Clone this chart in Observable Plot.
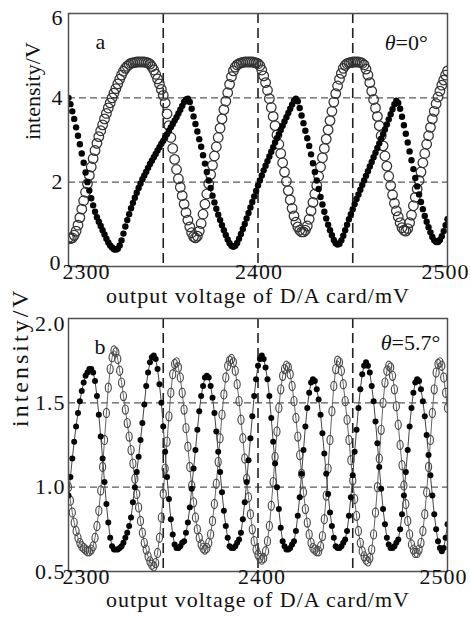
<!DOCTYPE html>
<html>
<head>
<meta charset="utf-8">
<script src="https://cdn.jsdelivr.net/npm/d3@7"></script>
<script src="https://cdn.jsdelivr.net/npm/@observablehq/plot@0.6"></script>
<style>
  html, body { margin: 0; padding: 0; background: #fff; }
  #chart { width: 470px; height: 619px; overflow: hidden; }
  #chart svg { display: block; }
  #chart svg text { font-family: "Liberation Serif", "Times New Roman", serif; }
</style>
</head>
<body>
<div id="chart"></div>
<script>
// ---------------- data ----------------
// sample positions: output voltage of D/A card (mV), one sample per mV
const mv = d3.range(2300, 2501);

// panel a (θ = 0°): filled-dot series, intensity/V
const aFilled = [
  4.00,3.85,3.68,3.50,3.30,3.10,2.90,2.68,2.46,2.23,
  2.00,1.80,1.62,1.45,1.30,1.17,1.06,0.96,0.86,0.76,
  0.66,0.57,0.50,0.45,0.41,0.40,0.42,0.50,0.62,0.78,
  0.95,1.10,1.24,1.38,1.51,1.63,1.75,1.86,1.97,2.07,
  2.16,2.25,2.34,2.43,2.51,2.59,2.67,2.75,2.83,2.91,
  2.98,3.06,3.14,3.22,3.30,3.38,3.46,3.54,3.63,3.72,
  3.81,3.90,3.96,3.98,3.90,3.74,3.56,3.38,3.20,3.02,
  2.84,2.64,2.44,2.24,2.04,1.86,1.68,1.52,1.37,1.23,
  1.10,0.98,0.86,0.75,0.64,0.55,0.49,0.47,0.49,0.56,
  0.66,0.77,0.89,1.01,1.14,1.27,1.40,1.53,1.66,1.79,
  1.92,2.04,2.16,2.28,2.39,2.50,2.61,2.72,2.83,2.94,
  3.04,3.14,3.24,3.34,3.44,3.54,3.64,3.74,3.84,3.93,
  3.98,3.92,3.76,3.58,3.40,3.22,3.04,2.86,2.66,2.45,
  2.24,2.04,1.84,1.65,1.47,1.30,1.14,0.99,0.86,0.74,
  0.63,0.55,0.52,0.54,0.62,0.73,0.86,0.99,1.12,1.24,
  1.36,1.48,1.60,1.71,1.82,1.93,2.04,2.15,2.26,2.37,
  2.48,2.59,2.70,2.81,2.92,3.03,3.14,3.25,3.37,3.49,
  3.61,3.73,3.85,3.93,3.88,3.74,3.55,3.35,3.15,2.94,
  2.73,2.52,2.31,2.10,1.90,1.71,1.53,1.36,1.20,1.06,
  0.93,0.81,0.70,0.62,0.58,0.58,0.63,0.72,0.84,0.98,
  1.12
];
// panel a: open-circle series
const aOpen = [
  0.68,0.66,0.68,0.74,0.84,0.98,1.16,1.36,1.56,1.76,
  1.96,2.16,2.36,2.56,2.75,2.92,3.08,3.22,3.36,3.50,
  3.63,3.76,3.88,4.00,4.11,4.22,4.33,4.44,4.54,4.63,
  4.70,4.75,4.79,4.82,4.83,4.84,4.85,4.85,4.85,4.85,
  4.85,4.84,4.83,4.80,4.74,4.66,4.56,4.45,4.33,4.20,
  4.06,3.88,3.62,3.34,3.06,2.80,2.54,2.30,2.08,1.88,
  1.68,1.48,1.28,1.10,0.94,0.80,0.71,0.68,0.72,0.84,
  1.02,1.24,1.48,1.72,1.96,2.18,2.40,2.62,2.84,3.06,
  3.28,3.50,3.72,3.92,4.12,4.32,4.50,4.64,4.73,4.78,
  4.81,4.83,4.84,4.85,4.85,4.85,4.85,4.85,4.84,4.83,
  4.81,4.76,4.66,4.52,4.36,4.18,3.98,3.77,3.56,3.34,
  3.12,2.90,2.68,2.46,2.24,2.02,1.80,1.58,1.38,1.20,
  1.05,0.94,0.86,0.82,0.82,0.86,0.96,1.12,1.32,1.52,
  1.72,1.92,2.14,2.36,2.58,2.80,3.02,3.24,3.46,3.68,
  3.90,4.10,4.28,4.44,4.58,4.70,4.77,4.81,4.83,4.84,
  4.85,4.85,4.85,4.85,4.84,4.82,4.78,4.68,4.54,4.36,
  4.16,3.96,3.76,3.56,3.34,3.10,2.86,2.62,2.38,2.14,
  1.92,1.70,1.50,1.32,1.18,1.04,0.92,0.86,0.84,0.90,
  1.04,1.22,1.44,1.64,1.84,2.04,2.24,2.46,2.68,2.90,
  3.10,3.30,3.50,3.68,3.86,4.02,4.16,4.30,4.42,4.54,
  4.64
];
// panel b (θ = 5.7°): filled-dot series
const bFilled = [
  0.95,1.06,1.17,1.27,1.36,1.44,1.51,1.57,1.62,1.66,
  1.68,1.70,1.70,1.68,1.63,1.54,1.43,1.30,1.17,1.03,
  0.90,0.79,0.70,0.65,0.63,0.63,0.63,0.64,0.65,0.67,
  0.70,0.73,0.77,0.82,0.91,1.00,1.09,1.18,1.28,1.38,
  1.49,1.60,1.68,1.74,1.77,1.78,1.76,1.70,1.61,1.50,
  1.36,1.21,1.06,0.93,0.81,0.72,0.66,0.64,0.64,0.65,
  0.67,0.68,0.73,0.79,0.88,0.99,1.11,1.22,1.34,1.45,
  1.54,1.60,1.65,1.66,1.65,1.60,1.53,1.44,1.33,1.21,
  1.09,0.97,0.86,0.77,0.70,0.65,0.64,0.64,0.65,0.67,
  0.69,0.73,0.81,0.91,1.03,1.16,1.29,1.42,1.54,1.64,
  1.72,1.76,1.78,1.76,1.71,1.64,1.54,1.41,1.27,1.14,
  1.00,0.87,0.76,0.68,0.65,0.63,0.63,0.64,0.66,0.68,
  0.74,0.83,0.94,1.08,1.22,1.36,1.47,1.56,1.62,1.64,
  1.63,1.58,1.52,1.43,1.32,1.20,1.08,0.96,0.85,0.77,
  0.70,0.65,0.64,0.64,0.65,0.67,0.69,0.74,0.83,0.94,
  1.07,1.21,1.34,1.47,1.58,1.67,1.72,1.74,1.72,1.68,
  1.60,1.51,1.39,1.26,1.12,0.99,0.87,0.78,0.70,0.66,
  0.64,0.64,0.65,0.67,0.69,0.75,0.84,0.95,1.09,1.22,
  1.36,1.47,1.56,1.62,1.64,1.63,1.58,1.51,1.42,1.31,
  1.19,1.07,0.95,0.84,0.75,0.68,0.64,0.62,0.64,0.70,
  0.78
];
// panel b: open-circle series
const bOpen = [
  1.00,0.92,0.85,0.79,0.74,0.70,0.67,0.65,0.64,0.63,
  0.62,0.62,0.63,0.65,0.70,0.77,0.86,0.98,1.12,1.28,
  1.44,1.59,1.70,1.77,1.81,1.80,1.76,1.69,1.62,1.54,
  1.46,1.38,1.30,1.22,1.14,1.05,0.96,0.88,0.80,0.73,
  0.67,0.63,0.59,0.56,0.54,0.53,0.55,0.61,0.70,0.82,
  0.96,1.11,1.27,1.42,1.56,1.67,1.73,1.74,1.71,1.65,
  1.56,1.46,1.35,1.24,1.12,1.01,0.91,0.82,0.75,0.70,
  0.66,0.64,0.63,0.64,0.67,0.72,0.80,0.90,1.02,1.15,
  1.29,1.43,1.55,1.65,1.72,1.75,1.76,1.74,1.69,1.61,
  1.51,1.40,1.29,1.17,1.05,0.94,0.84,0.75,0.68,0.63,
  0.60,0.58,0.57,0.58,0.62,0.68,0.77,0.89,1.03,1.18,
  1.33,1.47,1.58,1.66,1.70,1.72,1.71,1.67,1.60,1.51,
  1.41,1.30,1.19,1.08,0.97,0.87,0.79,0.72,0.67,0.64,
  0.63,0.62,0.62,0.65,0.71,0.81,0.95,1.11,1.28,1.45,
  1.60,1.70,1.75,1.74,1.69,1.61,1.51,1.40,1.28,1.16,
  1.04,0.93,0.83,0.74,0.67,0.62,0.59,0.57,0.56,0.58,
  0.63,0.72,0.85,1.00,1.17,1.34,1.50,1.62,1.69,1.72,
  1.71,1.66,1.58,1.48,1.37,1.25,1.13,1.01,0.90,0.80,
  0.72,0.66,0.63,0.61,0.61,0.63,0.67,0.74,0.84,0.97,
  1.12,1.28,1.44,1.58,1.68,1.73,1.74,1.72,1.65,1.56,
  1.47
];

// axes / grid / labels
const xDomain = [2300, 2500];
const xGrid = [2350, 2400, 2450];
const xTickLabels = [2300, 2400, 2500];
const yDomainA = [0, 6];
const yGridA = [2, 4];
const yTicksA = [0, 2, 4, 6];
const yDomainB = [0.5, 2.0];
const yGridB = [1.0, 1.5];
const yTicksB = [0.5, 1.0, 1.5, 2.0];
const xTitle = "output voltage of D/A card/mV";
const yTitle = "intensity/V";
const panelA = {tag: "a", theta: "θ", angle: "=0°"};
const panelB = {tag: "b", theta: "θ", angle: "=5.7°"};

// ---------------- build ----------------
const rowsA = mv.map((x, i) => ({mv: x, filled: aFilled[i], open: aOpen[i]}));
const rowsB = mv.map((x, i) => ({mv: x, filled: bFilled[i], open: bOpen[i]}));

const FONT = "Liberation Serif";
const INK = "#111";
const FS = 22;

// vertically elongated ring used for the open markers of panel b
const ellipse = {
  draw(ctx, size) {
    const r = Math.sqrt(size / Math.PI);
    const rx = r * 0.66, ry = r, k = 0.5523;
    ctx.moveTo(rx, 0);
    ctx.bezierCurveTo(rx, ry * k, rx * k, ry, 0, ry);
    ctx.bezierCurveTo(-rx * k, ry, -rx, ry * k, -rx, 0);
    ctx.bezierCurveTo(-rx, -ry * k, -rx * k, -ry, 0, -ry);
    ctx.bezierCurveTo(rx * k, -ry, rx, -ry * k, rx, 0);
    ctx.closePath();
  }
};

const fmtA = d => String(d);
const fmtB = d => d.toFixed(1);

function T(o) {
  return Object.assign({fontFamily: FONT, fontSize: FS, fill: INK, stroke: null}, o);
}

const chartA = Plot.plot({
  width: 470, height: 310,
  marginLeft: 68, marginRight: 23, marginTop: 13, marginBottom: 44,
  x: {domain: xDomain, axis: null},
  y: {domain: yDomainA, axis: null},
  style: {fontFamily: FONT, fontSize: FS + "px", color: INK, background: "#fff", overflow: "visible"},
  marks: [
    Plot.ruleY(yGridA, {y: d => d, stroke: "#5a5a5a", strokeWidth: 1.2, strokeDasharray: "7,4"}),
    Plot.ruleX(xGrid, {x: d => d, stroke: "#222", strokeWidth: 1.6, strokeDasharray: "10,5"}),
    Plot.dot(rowsA, {x: "mv", y: "open", r: 4.8, fill: "none", stroke: "#333", strokeWidth: 1.25, clip: true}),
    Plot.dot(rowsA, {x: "mv", y: "filled", r: 3.2, fill: "#050505", stroke: "none", clip: true}),
    Plot.frame({stroke: "#505050", strokeWidth: 1.5}),
    // y tick labels
    Plot.text(yTicksA.filter(d => d > 0 && d < 6), T({y: d => d, text: fmtA, frameAnchor: "left", textAnchor: "end", dx: -6, dy: 0})),
    Plot.text([yTicksA[3]], T({y: d => d, text: fmtA, frameAnchor: "left", textAnchor: "end", dx: -6, dy: 4})),
    Plot.text([yTicksA[0]], T({y: d => d, text: fmtA, frameAnchor: "left", textAnchor: "end", dx: -8, dy: -4})),
    // x tick labels
    Plot.text([xTickLabels[0]], T({x: d => d, text: fmtA, frameAnchor: "bottom", textAnchor: "start", dx: -6, dy: 12})),
    Plot.text([xTickLabels[1]], T({x: d => d, text: fmtA, frameAnchor: "bottom", textAnchor: "middle", dx: 1, dy: 12})),
    Plot.text([xTickLabels[2]], T({x: d => d, text: fmtA, frameAnchor: "bottom", textAnchor: "end", dx: 22, dy: 12})),
    // axis titles
    Plot.text([xTitle], T({frameAnchor: "bottom", dy: 36})),
    Plot.text([yTitle], T({frameAnchor: "left", rotate: -90, dx: -36})),
    // panel annotations
    Plot.text([panelA.tag], T({frameAnchor: "top-left", dx: 27, dy: 20})),
    Plot.text([panelA.theta], T({frameAnchor: "top-right", textAnchor: "end", dx: -52, dy: 21, fontStyle: "italic"})),
    Plot.text([panelA.angle], T({frameAnchor: "top-right", textAnchor: "start", dx: -52, dy: 21}))
  ]
});

const chartB = Plot.plot({
  width: 470, height: 309,
  marginLeft: 68, marginRight: 23, marginTop: 8, marginBottom: 48,
  x: {domain: xDomain, axis: null},
  y: {domain: yDomainB, axis: null},
  style: {fontFamily: FONT, fontSize: FS + "px", color: INK, background: "#fff", overflow: "visible"},
  marks: [
    Plot.ruleY(yGridB, {y: d => d, stroke: "#5a5a5a", strokeWidth: 1.2, strokeDasharray: "7,4"}),
    Plot.ruleX(xGrid, {x: d => d, stroke: "#222", strokeWidth: 1.6, strokeDasharray: "10,5"}),
    Plot.line(rowsB, {x: "mv", y: "open", stroke: "#666", strokeWidth: 1, clip: true}),
    Plot.line(rowsB, {x: "mv", y: "filled", stroke: "#444", strokeWidth: 1, clip: true}),
    Plot.dot(rowsB, {x: "mv", y: "open", r: 4.6, symbol: ellipse, fill: "none", stroke: "#4a4a4a", strokeWidth: 1.15, clip: true}),
    Plot.dot(rowsB, {x: "mv", y: "filled", r: 3.0, fill: "#050505", stroke: "none", clip: true}),
    Plot.frame({stroke: "#505050", strokeWidth: 1.5}),
    // y tick labels
    Plot.text(yTicksB.filter(d => d < 2), T({y: d => d, text: fmtB, frameAnchor: "left", textAnchor: "end", dx: -3, dy: 0})),
    Plot.text([yTicksB[3]], T({y: d => d, text: fmtB, frameAnchor: "left", textAnchor: "end", dx: -3, dy: 5})),
    // x tick labels
    Plot.text([xTickLabels[0]], T({x: d => d, text: fmtA, frameAnchor: "bottom", textAnchor: "start", dx: -6, dy: 12})),
    Plot.text([xTickLabels[1]], T({x: d => d, text: fmtA, frameAnchor: "bottom", textAnchor: "middle", dx: 4, dy: 12})),
    Plot.text([xTickLabels[2]], T({x: d => d, text: fmtA, frameAnchor: "bottom", textAnchor: "end", dx: 20, dy: 12})),
    // axis titles
    Plot.text([xTitle], T({frameAnchor: "bottom", dy: 35})),
    Plot.text([yTitle], T({frameAnchor: "left", rotate: -90, dx: -48, dy: -18, fontSize: 24})),
    // panel annotations
    Plot.text([panelB.tag], T({frameAnchor: "top-left", dx: 26, dy: 20})),
    Plot.text([panelB.theta], T({frameAnchor: "top-right", textAnchor: "end", dx: -56, dy: 16, fontStyle: "italic"})),
    Plot.text([panelB.angle], T({frameAnchor: "top-right", textAnchor: "start", dx: -56, dy: 16}))
  ]
});

// letter spacing (the source figure's type is set wide)
function spaceOut(svg, yTitleSpacing) {
  d3.select(svg).selectAll("text").each(function() {
    const t = this.textContent;
    if (t === xTitle) this.style.letterSpacing = "1px";
    else if (/^\d{4}$/.test(t) || /^\d\.\d$/.test(t)) this.style.letterSpacing = "1px";
    else if (t === yTitle) this.style.letterSpacing = yTitleSpacing;
  });
}
spaceOut(chartA, "0px");
spaceOut(chartB, "3px");

const root = document.getElementById("chart");
root.appendChild(chartA);
root.appendChild(chartB);
</script>
</body>
</html>
